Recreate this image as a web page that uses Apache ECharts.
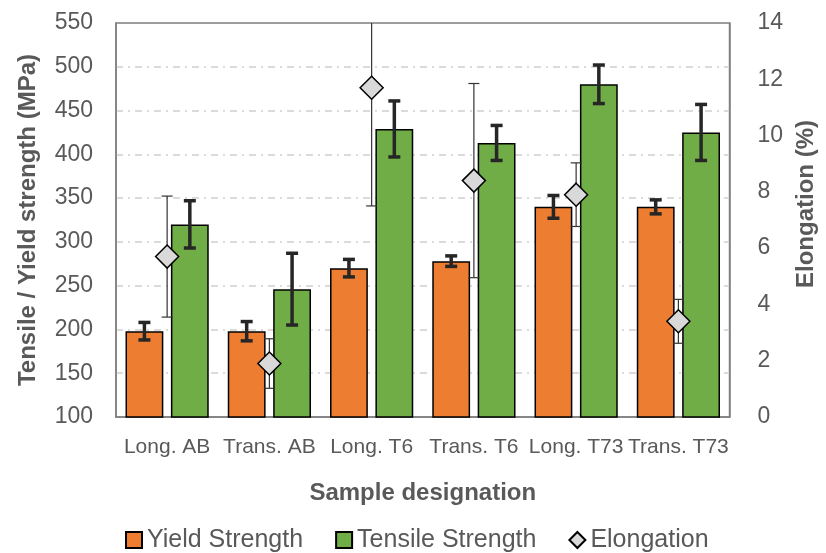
<!DOCTYPE html>
<html>
<head>
<meta charset="utf-8">
<script src="https://cdn.jsdelivr.net/npm/echarts@6/dist/echarts.min.js"></script>
<style>html,body{margin:0;padding:0;background:#fff;}#c{width:826px;height:553px;}</style>
</head>
<body>
<div id="c"></div>
<script>
const categories = ['Long. AB', 'Trans. AB', 'Long. T6', 'Trans. T6', 'Long. T73', 'Trans. T73'];
const yieldStrength = [198, 198, 270, 278, 340, 340];
const yieldErr = [10, 11, 10, 6, 13, 8];
const tensileStrength = [320, 246, 429, 413, 480, 425];
const tensileErr = [27, 41, 32, 20, 22, 32];
const elongation = [5.7, 1.9, 11.7, 8.4, 7.9, 3.4];
const elongErr = [2.15, 0.88, 4.2, 3.45, 1.13, 0.78];
const leftTicks = [100, 550, 50];
const rightTicks = [0, 14, 2];

const BAR_W = 0.37, BAR_GAP = 0.2;
const FONT = '"Liberation Sans", Arial, sans-serif';
const TXT = '#595959';

function errRender(offsetSign, capW, lw, color) {
  return function (params, api) {
    const i = api.value(0), v = api.value(1), e = api.value(2);
    const c = api.coord([i, v]);
    const catW = api.size([1, 0])[0];
    const bw = catW * BAR_W, gap = bw * BAR_GAP;
    const x = c[0] + offsetSign * (bw + gap) / 2;
    const top = api.coord([i, v + e])[1];
    const bot = api.coord([i, v - e])[1];
    const st = { stroke: color, lineWidth: lw };
    return {
      type: 'group',
      children: [
        { type: 'line', shape: { x1: x, y1: top, x2: x, y2: bot }, style: st },
        { type: 'line', shape: { x1: x - capW / 2, y1: top, x2: x + capW / 2, y2: top }, style: st },
        { type: 'line', shape: { x1: x - capW / 2, y1: bot, x2: x + capW / 2, y2: bot }, style: st }
      ]
    };
  };
}
function errData(vals, errs) { return vals.map((v, i) => [i, v, errs[i]]); }

const chart = echarts.init(document.getElementById('c'), null, { renderer: 'canvas' });
chart.setOption({
  animation: false,
  backgroundColor: '#fff',
  textStyle: { fontFamily: FONT },
  grid: { left: 116, right: 91, top: 23, bottom: 136, show: true, borderColor: '#7f7f7f', borderWidth: 1.5, containLabel: false },
  legend: {
    left: 120, top: 522, itemGap: 32, itemWidth: 16, itemHeight: 16,
    textStyle: { fontFamily: FONT, fontSize: 25, color: TXT, lineHeight: 26 },
    data: [
      { name: 'Yield Strength', icon: 'rect' },
      { name: 'Tensile Strength', icon: 'rect' },
      { name: 'Elongation', icon: 'diamond' }
    ]
  },
  xAxis: {
    type: 'category', data: categories,
    name: 'Sample designation', nameLocation: 'middle', nameGap: 64,
    nameTextStyle: { fontFamily: FONT, fontSize: 24, fontWeight: 'bold', color: TXT },
    axisLine: { show: true, lineStyle: { color: '#7f7f7f', width: 1.5 } },
    axisTick: { show: false },
    axisLabel: { fontFamily: FONT, fontSize: 21, color: TXT, margin: 20, interval: 0 }
  },
  yAxis: [
    {
      type: 'value', min: leftTicks[0], max: leftTicks[1], interval: leftTicks[2],
      name: 'Tensile / Yield strength (MPa)', nameLocation: 'middle', nameGap: 76, nameRotate: 90,
      nameTextStyle: { fontFamily: FONT, fontSize: 24, fontWeight: 'bold', color: TXT },
      axisLine: { show: true, lineStyle: { color: '#7f7f7f', width: 1.5 } },
      axisTick: { show: false },
      axisLabel: { fontFamily: FONT, fontSize: 23, color: TXT, margin: 23 },
      splitLine: { show: true, showMinLine: false, showMaxLine: false, lineStyle: { color: '#d0d0d0', width: 1.5, type: [7, 5, 2, 5] } }
    },
    {
      type: 'value', min: rightTicks[0], max: rightTicks[1], interval: rightTicks[2],
      name: 'Elongation (%)', nameLocation: 'middle', nameGap: 63, nameRotate: 90,
      nameTextStyle: { fontFamily: FONT, fontSize: 24, fontWeight: 'bold', color: TXT, padding: [0, 0, 0, 32] },
      axisLine: { show: true, lineStyle: { color: '#7f7f7f', width: 1.5 } },
      axisTick: { show: false },
      axisLabel: { fontFamily: FONT, fontSize: 23, color: TXT, margin: 28 },
      splitLine: { show: false }
    }
  ],
  series: [
    {
      name: 'Yield Strength', type: 'bar', data: yieldStrength, barWidth: (BAR_W * 100) + '%', barGap: (BAR_GAP * 100) + '%',
      itemStyle: { color: '#ED7D31', borderColor: '#000', borderWidth: 1.5 }, z: 2
    },
    {
      name: 'Tensile Strength', type: 'bar', data: tensileStrength, barWidth: (BAR_W * 100) + '%', barGap: (BAR_GAP * 100) + '%',
      itemStyle: { color: '#70AD47', borderColor: '#000', borderWidth: 1.5 }, z: 2
    },
    {
      name: 'yieldErr', type: 'custom', data: errData(yieldStrength, yieldErr), renderItem: errRender(-1, 12, 3.5, '#262626'),
      encode: { x: 0, y: 1 }, z: 3, clip: true
    },
    {
      name: 'tensileErr', type: 'custom', data: errData(tensileStrength, tensileErr), renderItem: errRender(1, 12, 3.5, '#262626'),
      encode: { x: 0, y: 1 }, z: 3, clip: true
    },
    {
      name: 'elongErr', type: 'custom', yAxisIndex: 1, data: errData(elongation, elongErr), renderItem: errRender(0, 11, 1.2, '#333333'),
      encode: { x: 0, y: 1 }, z: 4, clip: true
    },
    {
      name: 'Elongation', type: 'scatter', yAxisIndex: 1, data: elongation, symbol: 'diamond', symbolSize: 23,
      itemStyle: { color: '#d9d9d9', borderColor: '#000', borderWidth: 1.5, opacity: 1 }, z: 5
    }
  ]
});
</script>
</body>
</html>
